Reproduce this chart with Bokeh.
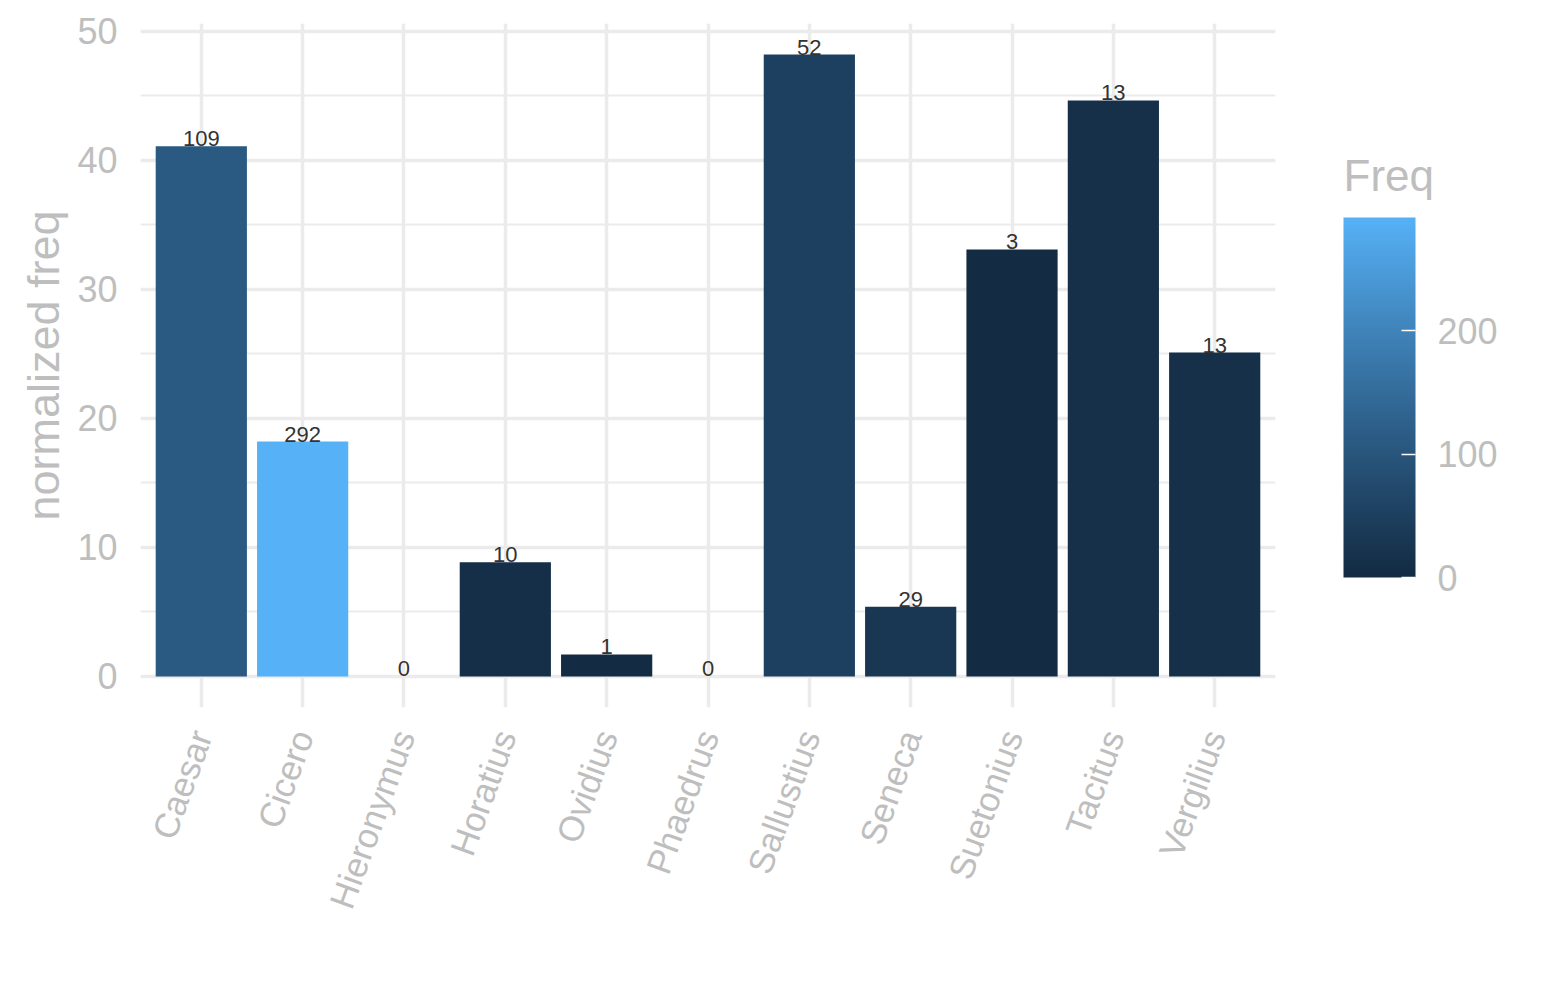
import math
from bokeh.plotting import figure
from bokeh.layouts import row
from bokeh.models import (ColumnDataSource, FactorRange, Range1d, LinearColorMapper,
                          ColorBar, FixedTicker, SingleIntervalTicker)
from bokeh.transform import transform
from bokeh.embed import file_html
from bokeh.resources import INLINE
from bokeh.core.properties import value

# ---- data ----
authors = ["Caesar", "Cicero", "Hieronymus", "Horatius", "Ovidius", "Phaedrus",
           "Sallustius", "Seneca", "Suetonius", "Tacitus", "Vergilius"]
freq = [109, 292, 0, 10, 1, 0, 52, 29, 3, 13, 13]
norm_freq = [41.1, 18.2, 0.0, 8.85, 1.7, 0.0, 48.2, 5.4, 33.1, 44.65, 25.1]
freq_ticks = [0, 100, 200]
y_ticks_interval = 10
legend_title = "Freq"

# ---- ggplot-like gradient (Lab interpolation #132B43 -> #56B1F7) ----
def hex2rgb(h):
    h = h.lstrip("#")
    return [int(h[i:i+2], 16) / 255 for i in (0, 2, 4)]

def srgb2lin(c):
    return c / 12.92 if c <= 0.04045 else ((c + 0.055) / 1.055) ** 2.4

def lin2srgb(c):
    c = max(0.0, min(1.0, c))
    return 12.92 * c if c <= 0.0031308 else 1.055 * c ** (1 / 2.4) - 0.055

WHITE = (0.95047, 1.0, 1.08883)

def rgb2lab(rgb):
    r, g, b = [srgb2lin(c) for c in rgb]
    X = 0.4124 * r + 0.3576 * g + 0.1805 * b
    Y = 0.2126 * r + 0.7152 * g + 0.0722 * b
    Z = 0.0193 * r + 0.1192 * g + 0.9505 * b
    def f(t):
        return t ** (1 / 3) if t > 0.008856 else 7.787 * t + 16 / 116
    fx, fy, fz = f(X / WHITE[0]), f(Y / WHITE[1]), f(Z / WHITE[2])
    return (116 * fy - 16, 500 * (fx - fy), 200 * (fy - fz))

def lab2hex(lab):
    L, a, b = lab
    fy = (L + 16) / 116
    fx = fy + a / 500
    fz = fy - b / 200
    def finv(t):
        return t ** 3 if t ** 3 > 0.008856 else (t - 16 / 116) / 7.787
    X, Y, Z = finv(fx) * WHITE[0], finv(fy) * WHITE[1], finv(fz) * WHITE[2]
    r = 3.2406 * X - 1.5372 * Y - 0.4986 * Z
    g = -0.9689 * X + 1.8758 * Y + 0.0415 * Z
    bb = 0.0557 * X - 0.2040 * Y + 1.0570 * Z
    return "#%02x%02x%02x" % tuple(int(round(lin2srgb(c) * 255)) for c in (r, g, bb))

lo, hi = rgb2lab(hex2rgb("#132B43")), rgb2lab(hex2rgb("#56B1F7"))
palette = [lab2hex(tuple(lo[k] + (hi[k] - lo[k]) * i / 255 for k in range(3))) for i in range(256)]

mapper = LinearColorMapper(palette=palette, low=0, high=max(freq))

src = ColumnDataSource(dict(author=authors, freq=freq, norm=norm_freq,
                            label=[str(v) for v in freq]))

GREY = "#BEBEBE"
GRID = "#EBEBEB"
FONT = "Liberation Sans"
H = 984
W_MAIN = 1280
W_LEG = 249
TOP, BOTTOM = 23, 277
FRAME_H = H - TOP - BOTTOM

p = figure(width=W_MAIN, height=H, output_backend="svg", toolbar_location=None,
           x_range=FactorRange(factors=authors, range_padding=0.1, range_padding_units="absolute"),
           y_range=Range1d(-2.41, 50.61),
           min_border_left=140, min_border_right=5, min_border_top=TOP, min_border_bottom=BOTTOM)
p.outline_line_color = None
p.background_fill_color = "white"
p.border_fill_color = "white"

p.vbar(x="author", top="norm", bottom=0, width=0.9, source=src,
       fill_color=transform("freq", mapper), line_color=None)

p.text(x="author", y="norm", text="label", source=src, text_align="center",
       text_baseline="bottom", y_offset=0, text_font=value(FONT),
       text_font_size="22px", text_color="#333333")

# axes
p.yaxis.ticker = SingleIntervalTicker(interval=y_ticks_interval, num_minor_ticks=2)
p.yaxis.axis_label = "normalized freq"
for ax in (p.xaxis[0], p.yaxis[0]):
    ax.axis_line_color = None
    ax.major_tick_line_color = None
    ax.minor_tick_line_color = None
    ax.major_label_text_color = GREY
    ax.major_label_text_font = FONT
    ax.major_label_text_font_size = "36px"
p.xaxis.major_label_text_font_size = "35px"
p.yaxis.axis_label_text_color = GREY
p.yaxis.axis_label_text_font = FONT
p.yaxis.axis_label_text_font_size = "45px"
p.yaxis.axis_label_text_font_style = "normal"
p.yaxis.axis_label_standoff = 5
p.yaxis.major_label_standoff = 17
p.xaxis.major_label_orientation = math.radians(70)
p.xaxis.major_label_standoff = 18

# grids
p.xgrid.grid_line_color = GRID
p.xgrid.grid_line_width = 3.5
p.ygrid.grid_line_color = GRID
p.ygrid.grid_line_width = 3.5
p.ygrid.minor_grid_line_color = GRID
p.ygrid.minor_grid_line_width = 2

# ---- legend panel (colour bar + title), frame aligned with the main frame ----
leg = figure(width=W_LEG, height=H, output_backend="svg", toolbar_location=None,
             x_range=Range1d(0, W_LEG), y_range=Range1d(0, FRAME_H),
             x_axis_type=None, y_axis_type=None,
             min_border_left=0, min_border_right=0, min_border_top=TOP, min_border_bottom=BOTTOM)
leg.outline_line_color = None
leg.grid.visible = False

cb = ColorBar(color_mapper=mapper, ticker=FixedTicker(ticks=freq_ticks),
              width=72, height=360, padding=0, location=(63, 130),
              major_label_text_font=FONT, major_label_text_font_size="36px",
              major_label_text_color=GREY, label_standoff=22,
              major_tick_line_color="white", major_tick_line_width=1.5,
              major_tick_in=14, major_tick_out=0,
              bar_line_color=None, border_line_color=None, background_fill_color=None)
leg.add_layout(cb, "center")
leg.text(x=[63], y=[FRAME_H + TOP - 199], text=[legend_title], text_baseline="bottom",
         text_align="left", text_font=value(FONT), text_font_size="44px", text_color=GREY)

layout = row(p, leg, spacing=0)
open("out.html", "w").write(file_html(layout, INLINE))
